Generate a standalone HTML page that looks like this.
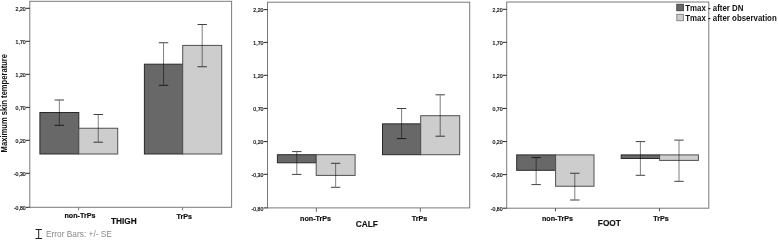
<!DOCTYPE html><html><head><meta charset="utf-8"><style>
html,body{margin:0;padding:0;background:#fff;}body{width:778px;height:240px;overflow:hidden;position:relative;}
svg{position:absolute;left:0;top:0;display:block;filter:blur(0.35px);}
text{font-family:"Liberation Sans", sans-serif;}
</style></head><body>
<svg width="778" height="240" viewBox="0 0 778 240">
<rect x="0" y="0" width="778" height="240" fill="#fff"/>
<rect x="29.8" y="1.3" width="201.80" height="206.00" fill="none" stroke="#7a7a7a" stroke-width="1"/>
<line x1="25.90" y1="8.30" x2="29.80" y2="8.30" stroke="#222" stroke-width="1"/>
<g transform="translate(25.70,11.10) scale(0.88,1)"><text x="0" y="0" font-size="5.9" font-weight="normal" fill="#1a1a1a" text-anchor="end" stroke="#1a1a1a" stroke-width="0.25">2,20</text></g>
<line x1="25.90" y1="41.30" x2="29.80" y2="41.30" stroke="#222" stroke-width="1"/>
<g transform="translate(25.70,44.10) scale(0.88,1)"><text x="0" y="0" font-size="5.9" font-weight="normal" fill="#1a1a1a" text-anchor="end" stroke="#1a1a1a" stroke-width="0.25">1,70</text></g>
<line x1="25.90" y1="74.30" x2="29.80" y2="74.30" stroke="#222" stroke-width="1"/>
<g transform="translate(25.70,77.10) scale(0.88,1)"><text x="0" y="0" font-size="5.9" font-weight="normal" fill="#1a1a1a" text-anchor="end" stroke="#1a1a1a" stroke-width="0.25">1,20</text></g>
<line x1="25.90" y1="107.40" x2="29.80" y2="107.40" stroke="#222" stroke-width="1"/>
<g transform="translate(25.70,110.20) scale(0.88,1)"><text x="0" y="0" font-size="5.9" font-weight="normal" fill="#1a1a1a" text-anchor="end" stroke="#1a1a1a" stroke-width="0.25">0,70</text></g>
<line x1="25.90" y1="140.30" x2="29.80" y2="140.30" stroke="#222" stroke-width="1"/>
<g transform="translate(25.70,143.10) scale(0.88,1)"><text x="0" y="0" font-size="5.9" font-weight="normal" fill="#1a1a1a" text-anchor="end" stroke="#1a1a1a" stroke-width="0.25">0,20</text></g>
<line x1="25.90" y1="173.30" x2="29.80" y2="173.30" stroke="#222" stroke-width="1"/>
<g transform="translate(25.70,176.10) scale(0.88,1)"><text x="0" y="0" font-size="5.9" font-weight="normal" fill="#1a1a1a" text-anchor="end" stroke="#1a1a1a" stroke-width="0.25">-0,30</text></g>
<line x1="25.90" y1="207.30" x2="29.80" y2="207.30" stroke="#222" stroke-width="1"/>
<g transform="translate(25.70,210.10) scale(0.88,1)"><text x="0" y="0" font-size="5.9" font-weight="normal" fill="#1a1a1a" text-anchor="end" stroke="#1a1a1a" stroke-width="0.25">-0,80</text></g>
<rect x="39.90" y="112.50" width="38.90" height="41.50" fill="#686868" stroke="#2a2a2a" stroke-width="1"/>
<rect x="78.80" y="128.25" width="38.90" height="25.75" fill="#cdcdcd" stroke="#505050" stroke-width="1"/>
<rect x="144.40" y="64.20" width="38.30" height="89.80" fill="#686868" stroke="#2a2a2a" stroke-width="1"/>
<rect x="182.70" y="45.40" width="39.00" height="108.60" fill="#cdcdcd" stroke="#505050" stroke-width="1"/>
<path d="M59.35 100.50V124.80" stroke="#000" stroke-opacity="0.5" stroke-width="1" fill="none"/>
<path d="M54.65 100H64.05M54.65 125.3H64.05" stroke="#000" stroke-opacity="0.75" stroke-width="1" fill="none"/>
<path d="M98.25 115.00V141.70" stroke="#000" stroke-opacity="0.5" stroke-width="1" fill="none"/>
<path d="M93.55 114.5H102.95M93.55 142.2H102.95" stroke="#000" stroke-opacity="0.75" stroke-width="1" fill="none"/>
<path d="M163.55 43.25V84.80" stroke="#000" stroke-opacity="0.5" stroke-width="1" fill="none"/>
<path d="M158.85 42.75H168.25M158.85 85.3H168.25" stroke="#000" stroke-opacity="0.75" stroke-width="1" fill="none"/>
<path d="M202.20 25.00V66.25" stroke="#000" stroke-opacity="0.5" stroke-width="1" fill="none"/>
<path d="M197.50 24.5H206.90M197.50 66.75H206.90" stroke="#000" stroke-opacity="0.75" stroke-width="1" fill="none"/>
<line x1="78.60" y1="207.30" x2="78.60" y2="210.30" stroke="#777" stroke-width="1"/>
<line x1="182.60" y1="207.30" x2="182.60" y2="210.30" stroke="#777" stroke-width="1"/>
<g transform="translate(80.00,218.40) scale(0.97,1)"><text x="0" y="0" font-size="7.4" font-weight="bold" fill="#111" text-anchor="middle" stroke="#111" stroke-width="0.2">non-TrPs</text></g>
<g transform="translate(184.25,218.80) scale(0.97,1)"><text x="0" y="0" font-size="7.4" font-weight="bold" fill="#111" text-anchor="middle" stroke="#111" stroke-width="0.2">TrPs</text></g>
<g transform="translate(123.90,224.45) scale(0.955,1)"><text x="0" y="0" font-size="8.7" font-weight="bold" fill="#111" text-anchor="middle" stroke="#111" stroke-width="0.15">THIGH</text></g>
<rect x="267.5" y="2.2" width="202.20" height="205.70" fill="none" stroke="#7a7a7a" stroke-width="1"/>
<line x1="263.60" y1="9.60" x2="267.50" y2="9.60" stroke="#222" stroke-width="1"/>
<g transform="translate(263.40,12.40) scale(0.88,1)"><text x="0" y="0" font-size="5.9" font-weight="normal" fill="#1a1a1a" text-anchor="end" stroke="#1a1a1a" stroke-width="0.25">2,20</text></g>
<line x1="263.60" y1="42.40" x2="267.50" y2="42.40" stroke="#222" stroke-width="1"/>
<g transform="translate(263.40,45.20) scale(0.88,1)"><text x="0" y="0" font-size="5.9" font-weight="normal" fill="#1a1a1a" text-anchor="end" stroke="#1a1a1a" stroke-width="0.25">1,70</text></g>
<line x1="263.60" y1="75.30" x2="267.50" y2="75.30" stroke="#222" stroke-width="1"/>
<g transform="translate(263.40,78.10) scale(0.88,1)"><text x="0" y="0" font-size="5.9" font-weight="normal" fill="#1a1a1a" text-anchor="end" stroke="#1a1a1a" stroke-width="0.25">1,20</text></g>
<line x1="263.60" y1="108.40" x2="267.50" y2="108.40" stroke="#222" stroke-width="1"/>
<g transform="translate(263.40,111.20) scale(0.88,1)"><text x="0" y="0" font-size="5.9" font-weight="normal" fill="#1a1a1a" text-anchor="end" stroke="#1a1a1a" stroke-width="0.25">0,70</text></g>
<line x1="263.60" y1="141.60" x2="267.50" y2="141.60" stroke="#222" stroke-width="1"/>
<g transform="translate(263.40,144.40) scale(0.88,1)"><text x="0" y="0" font-size="5.9" font-weight="normal" fill="#1a1a1a" text-anchor="end" stroke="#1a1a1a" stroke-width="0.25">0,20</text></g>
<line x1="263.60" y1="174.30" x2="267.50" y2="174.30" stroke="#222" stroke-width="1"/>
<g transform="translate(263.40,177.10) scale(0.88,1)"><text x="0" y="0" font-size="5.9" font-weight="normal" fill="#1a1a1a" text-anchor="end" stroke="#1a1a1a" stroke-width="0.25">-0,30</text></g>
<line x1="263.60" y1="207.90" x2="267.50" y2="207.90" stroke="#222" stroke-width="1"/>
<g transform="translate(263.40,210.70) scale(0.88,1)"><text x="0" y="0" font-size="5.9" font-weight="normal" fill="#1a1a1a" text-anchor="end" stroke="#1a1a1a" stroke-width="0.25">-0,80</text></g>
<rect x="277.40" y="154.70" width="38.80" height="8.10" fill="#686868" stroke="#2a2a2a" stroke-width="1"/>
<rect x="316.20" y="154.70" width="38.90" height="20.70" fill="#cdcdcd" stroke="#505050" stroke-width="1"/>
<rect x="382.50" y="123.85" width="38.20" height="30.85" fill="#686868" stroke="#2a2a2a" stroke-width="1"/>
<rect x="420.70" y="115.70" width="39.00" height="39.00" fill="#cdcdcd" stroke="#505050" stroke-width="1"/>
<path d="M296.80 152.10V173.90" stroke="#000" stroke-opacity="0.5" stroke-width="1" fill="none"/>
<path d="M292.10 151.6H301.50M292.10 174.4H301.50" stroke="#000" stroke-opacity="0.75" stroke-width="1" fill="none"/>
<path d="M335.65 163.80V186.80" stroke="#000" stroke-opacity="0.5" stroke-width="1" fill="none"/>
<path d="M330.95 163.3H340.35M330.95 187.3H340.35" stroke="#000" stroke-opacity="0.75" stroke-width="1" fill="none"/>
<path d="M401.60 109.00V138.10" stroke="#000" stroke-opacity="0.5" stroke-width="1" fill="none"/>
<path d="M396.90 108.5H406.30M396.90 138.6H406.30" stroke="#000" stroke-opacity="0.75" stroke-width="1" fill="none"/>
<path d="M440.20 95.30V135.70" stroke="#000" stroke-opacity="0.5" stroke-width="1" fill="none"/>
<path d="M435.50 94.8H444.90M435.50 136.2H444.90" stroke="#000" stroke-opacity="0.75" stroke-width="1" fill="none"/>
<line x1="316.30" y1="207.90" x2="316.30" y2="211.90" stroke="#666" stroke-width="1"/>
<line x1="420.30" y1="207.90" x2="420.30" y2="211.90" stroke="#666" stroke-width="1"/>
<g transform="translate(315.60,221.30) scale(0.97,1)"><text x="0" y="0" font-size="7.4" font-weight="bold" fill="#111" text-anchor="middle" stroke="#111" stroke-width="0.2">non-TrPs</text></g>
<g transform="translate(419.50,221.00) scale(0.97,1)"><text x="0" y="0" font-size="7.4" font-weight="bold" fill="#111" text-anchor="middle" stroke="#111" stroke-width="0.2">TrPs</text></g>
<g transform="translate(366.80,226.60) scale(0.955,1)"><text x="0" y="0" font-size="8.7" font-weight="bold" fill="#111" text-anchor="middle" stroke="#111" stroke-width="0.15">CALF</text></g>
<rect x="506.7" y="2.0" width="202.10" height="206.20" fill="none" stroke="#7a7a7a" stroke-width="1"/>
<line x1="502.80" y1="9.30" x2="506.70" y2="9.30" stroke="#222" stroke-width="1"/>
<g transform="translate(502.60,12.10) scale(0.88,1)"><text x="0" y="0" font-size="5.9" font-weight="normal" fill="#1a1a1a" text-anchor="end" stroke="#1a1a1a" stroke-width="0.25">2,20</text></g>
<line x1="502.80" y1="42.30" x2="506.70" y2="42.30" stroke="#222" stroke-width="1"/>
<g transform="translate(502.60,45.10) scale(0.88,1)"><text x="0" y="0" font-size="5.9" font-weight="normal" fill="#1a1a1a" text-anchor="end" stroke="#1a1a1a" stroke-width="0.25">1,70</text></g>
<line x1="502.80" y1="75.30" x2="506.70" y2="75.30" stroke="#222" stroke-width="1"/>
<g transform="translate(502.60,78.10) scale(0.88,1)"><text x="0" y="0" font-size="5.9" font-weight="normal" fill="#1a1a1a" text-anchor="end" stroke="#1a1a1a" stroke-width="0.25">1,20</text></g>
<line x1="502.80" y1="108.45" x2="506.70" y2="108.45" stroke="#222" stroke-width="1"/>
<g transform="translate(502.60,111.25) scale(0.88,1)"><text x="0" y="0" font-size="5.9" font-weight="normal" fill="#1a1a1a" text-anchor="end" stroke="#1a1a1a" stroke-width="0.25">0,70</text></g>
<line x1="502.80" y1="141.60" x2="506.70" y2="141.60" stroke="#222" stroke-width="1"/>
<g transform="translate(502.60,144.40) scale(0.88,1)"><text x="0" y="0" font-size="5.9" font-weight="normal" fill="#1a1a1a" text-anchor="end" stroke="#1a1a1a" stroke-width="0.25">0,20</text></g>
<line x1="502.80" y1="174.60" x2="506.70" y2="174.60" stroke="#222" stroke-width="1"/>
<g transform="translate(502.60,177.40) scale(0.88,1)"><text x="0" y="0" font-size="5.9" font-weight="normal" fill="#1a1a1a" text-anchor="end" stroke="#1a1a1a" stroke-width="0.25">-0,30</text></g>
<line x1="502.80" y1="208.20" x2="506.70" y2="208.20" stroke="#222" stroke-width="1"/>
<g transform="translate(502.60,211.00) scale(0.88,1)"><text x="0" y="0" font-size="5.9" font-weight="normal" fill="#1a1a1a" text-anchor="end" stroke="#1a1a1a" stroke-width="0.25">-0,80</text></g>
<rect x="516.70" y="154.90" width="38.90" height="15.40" fill="#686868" stroke="#2a2a2a" stroke-width="1"/>
<rect x="555.60" y="154.90" width="38.40" height="31.35" fill="#cdcdcd" stroke="#505050" stroke-width="1"/>
<rect x="621.20" y="154.90" width="38.40" height="3.60" fill="#686868" stroke="#2a2a2a" stroke-width="1"/>
<rect x="659.60" y="154.90" width="38.80" height="5.50" fill="#cdcdcd" stroke="#505050" stroke-width="1"/>
<path d="M536.15 158.10V184.10" stroke="#000" stroke-opacity="0.5" stroke-width="1" fill="none"/>
<path d="M531.45 157.6H540.85M531.45 184.6H540.85" stroke="#000" stroke-opacity="0.75" stroke-width="1" fill="none"/>
<path d="M574.80 173.75V199.50" stroke="#000" stroke-opacity="0.5" stroke-width="1" fill="none"/>
<path d="M570.10 173.25H579.50M570.10 200H579.50" stroke="#000" stroke-opacity="0.75" stroke-width="1" fill="none"/>
<path d="M640.40 142.10V174.80" stroke="#000" stroke-opacity="0.5" stroke-width="1" fill="none"/>
<path d="M635.70 141.6H645.10M635.70 175.3H645.10" stroke="#000" stroke-opacity="0.75" stroke-width="1" fill="none"/>
<path d="M679.00 140.60V180.80" stroke="#000" stroke-opacity="0.5" stroke-width="1" fill="none"/>
<path d="M674.30 140.1H683.70M674.30 181.3H683.70" stroke="#000" stroke-opacity="0.75" stroke-width="1" fill="none"/>
<line x1="555.50" y1="208.20" x2="555.50" y2="211.20" stroke="#555" stroke-width="1"/>
<line x1="659.50" y1="208.20" x2="659.50" y2="211.20" stroke="#555" stroke-width="1"/>
<g transform="translate(557.50,221.30) scale(0.97,1)"><text x="0" y="0" font-size="7.4" font-weight="bold" fill="#111" text-anchor="middle" stroke="#111" stroke-width="0.2">non-TrPs</text></g>
<g transform="translate(661.00,221.40) scale(0.97,1)"><text x="0" y="0" font-size="7.4" font-weight="bold" fill="#111" text-anchor="middle" stroke="#111" stroke-width="0.2">TrPs</text></g>
<g transform="translate(609.35,225.80) scale(0.955,1)"><text x="0" y="0" font-size="8.7" font-weight="bold" fill="#111" text-anchor="middle" stroke="#111" stroke-width="0.15">FOOT</text></g>
<g transform="translate(7.25,152.4) rotate(-90) scale(0.99,1.06)"><text x="0" y="0" font-size="7.7" font-weight="bold" fill="#111">Maximum skin temperature</text></g>
<rect x="676.8" y="4.3" width="6.6" height="6.4" fill="#686868" stroke="#444" stroke-width="1"/>
<rect x="676.8" y="14.3" width="6.6" height="6.4" fill="#cdcdcd" stroke="#888" stroke-width="1"/>
<g transform="translate(685.30,11.10) scale(0.95,1)"><text x="0" y="0" font-size="8.3" font-weight="bold" fill="#111" text-anchor="start" >Tmax - after DN</text></g>
<g transform="translate(685.30,21.10) scale(0.95,1)"><text x="0" y="0" font-size="8.3" font-weight="bold" fill="#111" text-anchor="start" >Tmax - after observation</text></g>
<path d="M38.7 229.5V238.5M35.5 229.5H42M35.5 238.5H42" stroke="#222" stroke-width="1" fill="none"/>
<g transform="translate(46.00,237.10) scale(0.905,1)"><text x="0" y="0" font-size="9.2" font-weight="normal" fill="#8a8a8a" text-anchor="start" >Error Bars: +/- SE</text></g>
</svg></body></html>
